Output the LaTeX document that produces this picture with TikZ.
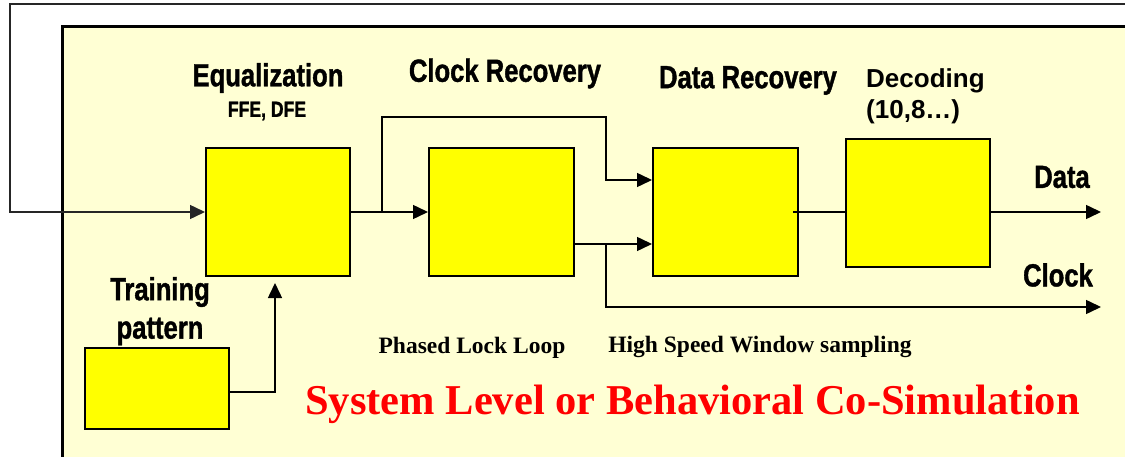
\documentclass[tikz,border=0pt]{standalone}
\usepackage{fontspec}
\setmainfont{Liberation Serif}
\newfontfamily\hdfont[FakeStretch=0.8,FakeBold=1.2]{Liberation Sans}
\newfontfamily\decfont{Liberation Sans}
\usetikzlibrary{arrows.meta}
\definecolor{bgyellow}{RGB}{255,255,212}
\definecolor{boxyellow}{RGB}{255,255,0}
\definecolor{titlered}{RGB}{255,0,0}
\begin{document}
\begin{tikzpicture}[x=1pt,y=-1pt,
  blk/.style={draw=black,line width=2pt,fill=boxyellow,inner sep=0pt,minimum width=144pt,minimum height=128pt},
  conn/.style={line width=1.5pt,draw=black},
  arr/.style={conn,-{Triangle[length=15pt,width=14pt]}},
  hd/.style={font=\hdfont\bfseries\fontsize{32}{34}\selectfont,inner sep=0pt},
  hdsmall/.style={font=\hdfont\bfseries\fontsize{22}{24}\selectfont,inner sep=0pt},
  decst/.style={font=\decfont\bfseries\fontsize{26}{28}\selectfont,inner sep=0pt},
  ser/.style={font=\bfseries\fontsize{23.5}{26}\selectfont,inner sep=0pt},
  ttl/.style={font=\bfseries\fontsize{42.5}{46}\selectfont,text=titlered,inner sep=0pt}]
\useasboundingbox (0,0) rectangle (1125,457);
% background panel
\fill[bgyellow] (62,27) rectangle (1140,470);
\draw[line width=3pt] (1140,27) -- (62,27) -- (62,470);
% blocks
\node[blk] (eq) at (278,212) {};
\node[blk,minimum width=145pt] (cr) at (501.5,212) {};
\node[blk,minimum width=145pt] (dr) at (725.5,212) {};
\node[blk] (dec) at (918,203) {};
\node[blk,minimum height=81pt] (tr) at (157,388.5) {};
% coordinates
\coordinate (fbstart) at (1125,4);
\coordinate (fbcorner) at (10,4);
\coordinate (b1) at (382,212);
\coordinate (b2top) at (606,117);
\coordinate (b3) at (606,244);
\coordinate (clkout) at (1101,307);
\coordinate (dataout) at (1101,212);
\coordinate (trc) at (275,392);
\coordinate (trtip) at (275,283);
% connectors
\draw[arr,draw=black!85] (fbstart) -- (fbcorner) |- (eq.west);
\draw[arr] (eq.east) -- (cr.west);
\draw[arr] (b1) |- (b2top) |- ([yshift=32pt]dr.west);
\draw[arr] ([yshift=-32pt]cr.east) -- ([yshift=-32pt]dr.west);
\draw[arr] (b3) |- (clkout);
\draw[conn] ([xshift=-6pt]dr.east) -- (dr.east -| dec.west);
\draw[arr] (dr.east -| dec.east) -- (dataout);
\draw[arr] ([xshift=-2pt]tr.east |- trc) -- (trc) -- (trtip);
% labels
\node[hd] (tEq) at (268,78) {Equalization};
\node[hdsmall] (tFFE) at (267,111) {FFE, DFE};
\node[hd] (tCR) at (505,73.5) {Clock Recovery};
\node[hd] (tDR) at (748,80.5) {Data Recovery};
\node[decst,anchor=west] (tDec) at (866,81) {Decoding};
\node[decst,anchor=west] (tDec2) at (866,112) {(10,8…)};
\node[hd] (tData) at (1062,177) {Data};
\node[hd] (tClk) at (1058,275) {Clock};
\node[hd] (tTr1) at (160,292) {Training};
\node[hd] (tTr2) at (160,331.5) {pattern};
\node[ser] (tPLL) at (472,348) {Phased Lock Loop};
\node[ser] (tHS) at (760,347) {High Speed Window sampling};
\node[ttl] (tTitle) at (692.5,404.5) {System Level or Behavioral Co-Simulation};
\end{tikzpicture}
\end{document}
